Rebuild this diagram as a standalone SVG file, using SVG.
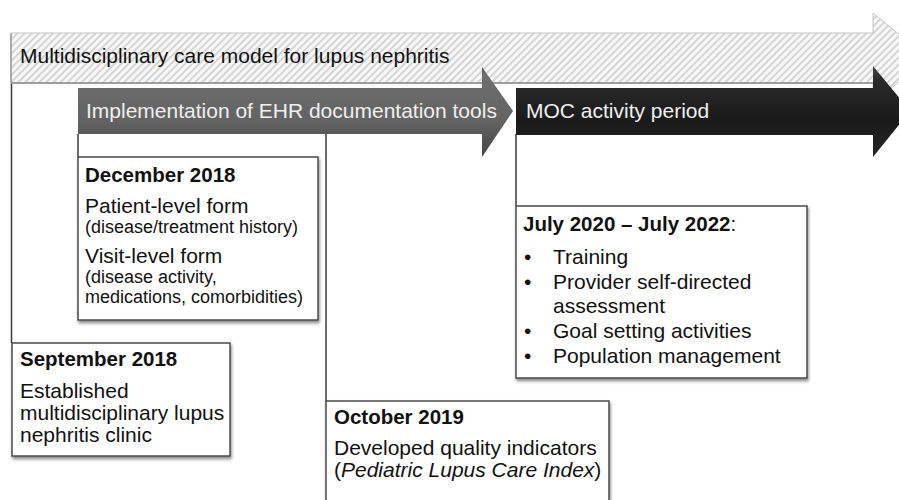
<svg xmlns="http://www.w3.org/2000/svg" width="899" height="500" viewBox="0 0 899 500">
<style>
  text { font-family: "Liberation Sans", Arial, sans-serif; fill: #111; }
  .big { font-size: 21px; }
  .head { font-size: 20.5px; font-weight: bold; }
  .small { font-size: 18px; }
  .arrowtxt { font-size: 21px; fill: #f0f0f0; }
  .box { fill: #fff; stroke: #4a4a4a; stroke-width: 1.5; filter: url(#shadow); }
  .conn { stroke: #3a3a3a; stroke-width: 1.5; fill: none; }
</style>
<defs>
  <pattern id="hatch" patternUnits="userSpaceOnUse" width="5" height="5" patternTransform="rotate(45)">
    <rect width="5" height="5" fill="#f8f8f8"/>
    <line x1="1" y1="0" x2="1" y2="5" stroke="#c6c6c6" stroke-width="1.4"/>
  </pattern>
  <linearGradient id="gGray" x1="0" y1="0" x2="0" y2="1">
    <stop offset="0" stop-color="#4e4e4e"/>
    <stop offset="0.08" stop-color="#6e6e6e"/>
    <stop offset="0.6" stop-color="#636363"/>
    <stop offset="1" stop-color="#454545"/>
  </linearGradient>
  <linearGradient id="gBlack" x1="0" y1="0" x2="0" y2="1">
    <stop offset="0" stop-color="#4a4a4a"/>
    <stop offset="0.15" stop-color="#2a2a2a"/>
    <stop offset="0.6" stop-color="#1a1a1a"/>
    <stop offset="1" stop-color="#262626"/>
  </linearGradient>
  <filter id="shadow" x="-5%" y="-5%" width="112%" height="120%">
    <feDropShadow dx="1" dy="2.5" stdDeviation="1.5" flood-color="#000" flood-opacity="0.45"/>
  </filter>
</defs>
<rect width="899" height="500" fill="#fff"/>

<g id="connectors">
  <line class="conn" x1="11.5" y1="83" x2="11.5" y2="343"/>
  <line class="conn" x1="78" y1="134" x2="78" y2="157"/>
  <line class="conn" x1="326" y1="134" x2="326" y2="401"/>
  <line class="conn" x1="516" y1="134" x2="516" y2="206"/>
</g>

<g id="arrow-multidisciplinary">
  <path d="M11,33 L873,33 L873,13 L928,58 L873,103 L873,83 L11,83 Z" fill="url(#hatch)" stroke="#c4c4c4" stroke-width="1"/>
  <line x1="11" y1="83" x2="873" y2="83" stroke="#8a8a8a" stroke-width="1.5"/>
  <line x1="11" y1="33" x2="11" y2="83" stroke="#999" stroke-width="1.5"/>
  <text class="big" x="20" y="63">Multidisciplinary care model for lupus nephritis</text>
</g>

<g id="arrow-ehr">
  <path d="M78,88 L482,88 L482,67 L513,111 L482,157 L482,134 L78,134 Z" fill="url(#gGray)"/>
  <text class="arrowtxt" x="86" y="118">Implementation of EHR documentation tools</text>
</g>

<g id="arrow-moc">
  <path d="M516,88 L873,88 L873,66 L910,111 L873,157 L873,135 L516,135 Z" fill="url(#gBlack)"/>
  <text class="arrowtxt" x="526" y="118">MOC activity period</text>
</g>

<g id="box-dec2018">
  <rect class="box" x="78" y="157" width="240" height="163"/>
  <text class="head" x="85" y="182">December 2018</text>
  <text class="big" x="85" y="213">Patient-level form</text>
  <text class="small" x="85" y="233">(disease/treatment history)</text>
  <text class="big" x="85" y="263">Visit-level form</text>
  <text class="small" x="85" y="283">(disease activity,</text>
  <text class="small" x="85" y="303">medications, comorbidities)</text>
</g>

<g id="box-sep2018">
  <rect class="box" x="12" y="343" width="218" height="113"/>
  <text class="head" x="20" y="366">September 2018</text>
  <text class="big" x="20" y="398">Established</text>
  <text class="big" x="20" y="420">multidisciplinary lupus</text>
  <text class="big" x="20" y="442">nephritis clinic</text>
</g>

<g id="box-oct2019">
  <rect class="box" x="326" y="401" width="283" height="115"/>
  <text class="head" x="334" y="424">October 2019</text>
  <text class="big" x="334" y="455">Developed quality indicators</text>
  <text class="big" x="334" y="477">(<tspan font-style="italic">Pediatric Lupus Care Index</tspan>)</text>
</g>

<g id="box-moc">
  <rect class="box" x="516" y="206" width="291" height="172"/>
  <text class="head" x="523" y="231">July 2020 – July 2022<tspan font-weight="normal">:</tspan></text>
  <text class="big" x="524" y="264">•</text>
  <text class="big" x="553" y="264">Training</text>
  <text class="big" x="524" y="289">•</text>
  <text class="big" x="553" y="289">Provider self-directed</text>
  <text class="big" x="553" y="313">assessment</text>
  <text class="big" x="524" y="338">•</text>
  <text class="big" x="553" y="338">Goal setting activities</text>
  <text class="big" x="524" y="363">•</text>
  <text class="big" x="553" y="363">Population management</text>
</g>
</svg>
